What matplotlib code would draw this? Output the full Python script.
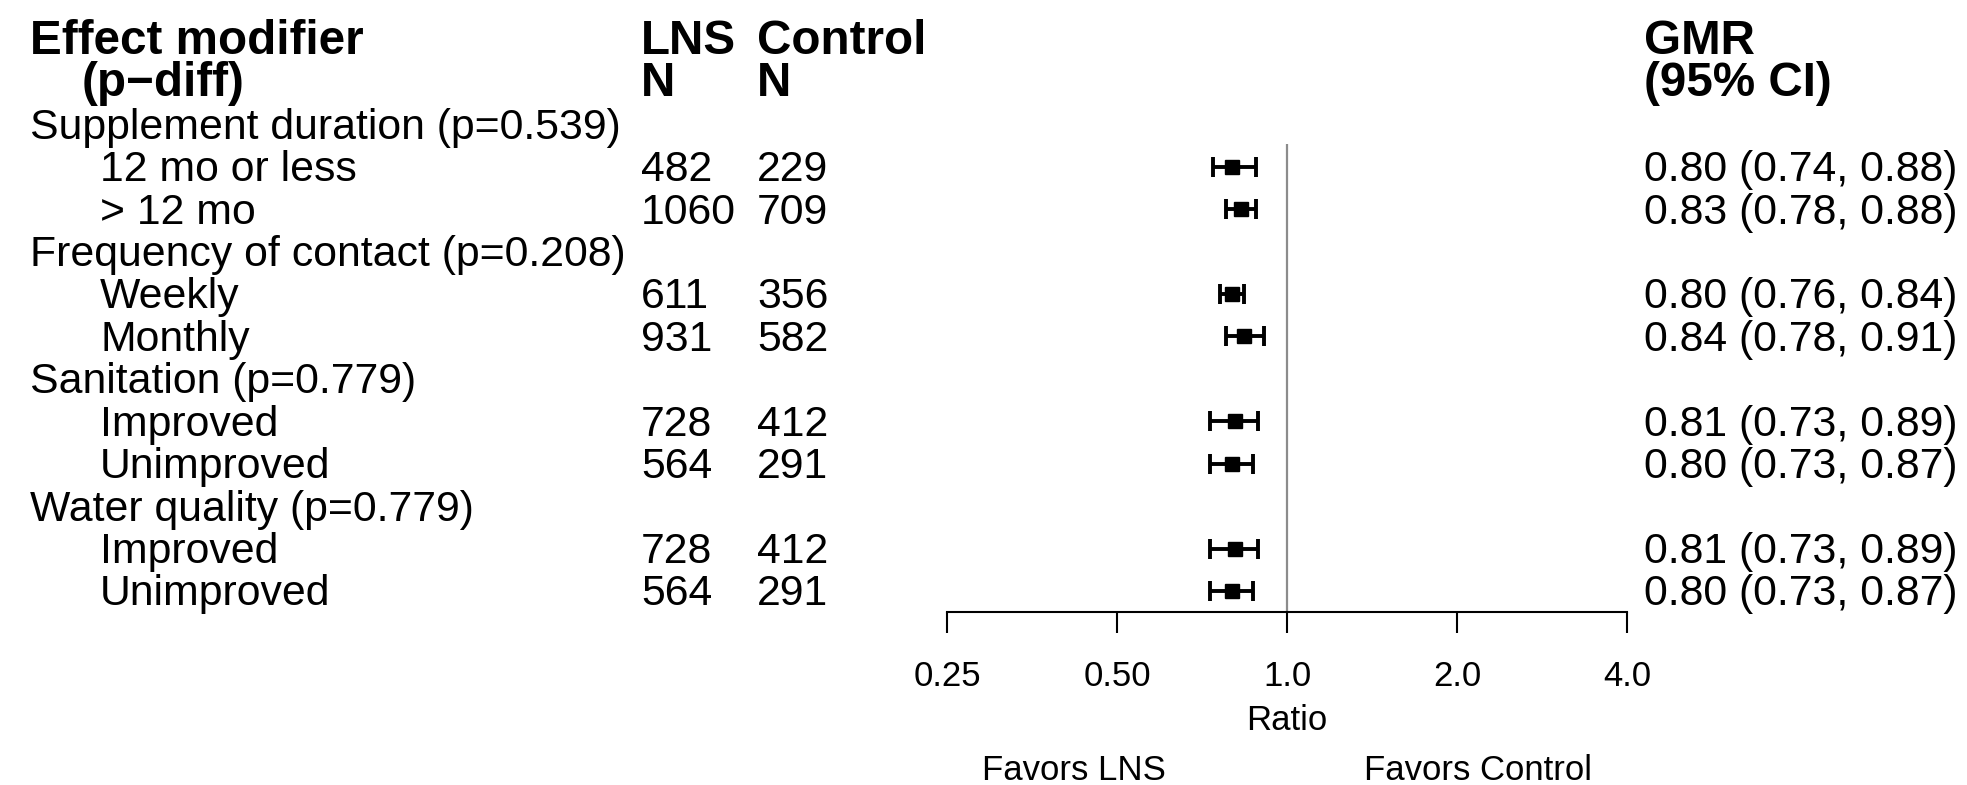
import numpy as np
import matplotlib
matplotlib.use("Agg")
import matplotlib.pyplot as plt

plt.rcParams['font.family'] = ['Liberation Sans', 'DejaVu Sans']

# ---- data ----
labels = ["Supplement duration (p=0.539)", "12 mo or less", "> 12 mo",
          "Frequency of contact (p=0.208)", "Weekly", "Monthly",
          "Sanitation (p=0.779)", "Improved", "Unimproved",
          "Water quality (p=0.779)", "Improved", "Unimproved"]
is_sub = [False, True, True, False, True, True, False, True, True, False, True, True]
lns_n = ["", "482", "1060", "", "611", "931", "", "728", "564", "", "728", "564"]
ctrl_n = ["", "229", "709", "", "356", "582", "", "412", "291", "", "412", "291"]
gmr = [np.nan, 0.80, 0.83, np.nan, 0.80, 0.84, np.nan, 0.81, 0.80, np.nan, 0.81, 0.80]
ci_lo = [np.nan, 0.74, 0.78, np.nan, 0.76, 0.78, np.nan, 0.73, 0.73, np.nan, 0.73, 0.73]
ci_hi = [np.nan, 0.88, 0.88, np.nan, 0.84, 0.91, np.nan, 0.89, 0.87, np.nan, 0.89, 0.87]
tick_vals = [0.25, 0.5, 1.0, 2.0, 4.0]
tick_labels = ["0.25", "0.50", "1.0", "2.0", "4.0"]

W, H = 1967, 785
fig = plt.figure(figsize=(W / 100, H / 100), dpi=100)

# layout in pixels
row0 = 124.2
dy = 42.43
ax_left, ax_right = 947, 1627
ax_top, ax_bot = 144, 611.7
ymin_row = (ax_bot - row0) / dy
ymax_row = (ax_top - row0) / dy

ax = fig.add_axes([ax_left / W, 1 - ax_bot / H, (ax_right - ax_left) / W, (ax_bot - ax_top) / H])
ax.set_xscale('log', base=2)
ax.set_xlim(0.25, 4)
ax.set_ylim(ymin_row, ymax_row)
for s in ['top', 'right', 'left']:
    ax.spines[s].set_visible(False)
ax.spines['bottom'].set_linewidth(1.5)
ax.set_yticks([])
ax.set_xticks(tick_vals)
ax.set_xticklabels(tick_labels)
ax.minorticks_off()
ax.tick_params(axis='x', direction='out', length=15, width=1.5, pad=20, labelsize=25)
ax.axvline(1.0, color='#8c8c8c', lw=1.6, zorder=1)
ax.patch.set_alpha(0)

rows = np.arange(len(labels))
g = np.array(gmr)
lo = np.array(ci_lo)
hi = np.array(ci_hi)
m = ~np.isnan(g)
ax.errorbar(g[m], rows[m], xerr=[g[m] - lo[m], hi[m] - g[m]], fmt='s', color='black',
            ms=10, elinewidth=2.8, capsize=7.5, capthick=2.8, zorder=3)


def ypx(r):
    return row0 + dy * r + 14.5


def put(x, r, s, **kw):
    fig.text(x / W, 1 - ypx(r) / H, s, va='baseline', ha='left', **kw)


hdr = dict(fontsize=34.3, fontweight='bold')
put(30, -2, "Effect modifier", **hdr)
put(82, -1, "(p\u2212diff)", **hdr)
put(641, -2, "LNS", **hdr)
put(641, -1, "N", **hdr)
put(757, -2, "Control", **hdr)
put(757, -1, "N", **hdr)
put(1644, -2, "GMR", **hdr)
put(1644, -1, "(95% CI)", **hdr)

fs = 30.8
for i, lab in enumerate(labels):
    put(100 if is_sub[i] else 30, i, lab, fontsize=fs)
    if lns_n[i]:
        put(641, i, lns_n[i], fontsize=fs)
    if ctrl_n[i]:
        put(757, i, ctrl_n[i], fontsize=fs)
    if not np.isnan(gmr[i]):
        put(1644, i, f"{gmr[i]:.2f} ({ci_lo[i]:.2f}, {ci_hi[i]:.2f})", fontsize=fs)

fig.text(1287 / W, 1 - 730 / H, "Ratio", ha='center', va='baseline', fontsize=25)
fig.text(1074 / W, 1 - 780 / H, "Favors LNS", ha='center', va='baseline', fontsize=25)
fig.text(1478 / W, 1 - 780 / H, "Favors Control", ha='center', va='baseline', fontsize=25)

fig.savefig("out.png", dpi=100)
